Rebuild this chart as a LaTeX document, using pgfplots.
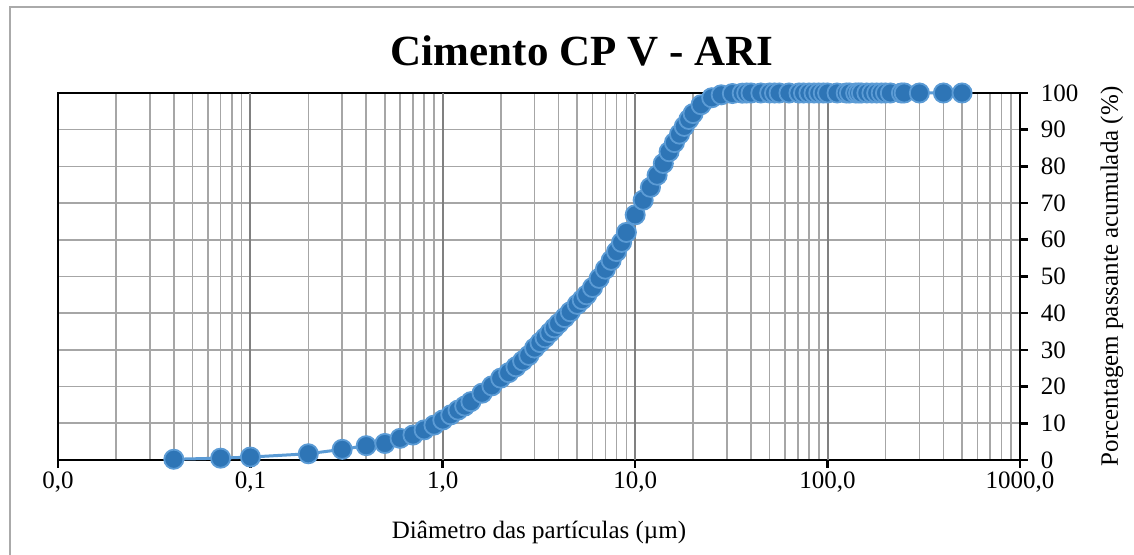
\documentclass[border=0pt]{standalone}
\usepackage{fontspec}
\setmainfont{Liberation Serif}
\usepackage{pgfplots}
\pgfplotsset{compat=1.18}
\definecolor{mfill}{RGB}{46,117,182}
\definecolor{medge}{RGB}{91,155,213}
\definecolor{gminor}{RGB}{166,166,166}
\definecolor{gmajor}{RGB}{128,128,128}
\definecolor{framec}{RGB}{170,170,170}
\begin{document}
\begin{tikzpicture}
\useasboundingbox (0,0) rectangle (567pt,277.5pt);
\draw[framec, line width=1.2pt] (5pt,-5pt) -- (5pt,274pt) -- (600pt,274pt);
\node[font=\fontsize{21.5}{24}\selectfont\bfseries, anchor=base] at (291pt,244.5pt) {Cimento CP V - ARI};
\begin{axis}[
  at={(29pt,47.5pt)}, anchor=south west,
  scale only axis, width=481pt, height=183.5pt,
  xmode=log, log basis x=10,
  xmin=0.01, xmax=1000, ymin=0, ymax=100,
  xtick={0.01,0.1,1,10,100,1000},
  xticklabels={{0,0},{0,1},{1,0},{10,0},{100,0},{1000,0}},
  minor xtick={0.02,0.03,0.04,0.05,0.06,0.07,0.08,0.09,0.2,0.3,0.4,0.5,0.6,0.7,0.8,0.9,2,3,4,5,6,7,8,9,20,30,40,50,60,70,80,90,200,300,400,500,600,700,800,900},
  extra x ticks={0.1,1,10,100},
  extra x tick labels={},
  extra x tick style={grid=major, major grid style={gmajor, line width=1pt}, major tick length=0pt},
  ytick={0,10,...,100},
  xtick pos=left, ytick pos=right,
  yticklabel pos=right,
  tick align=outside,
  major tick length=4pt, minor tick length=0pt,
  tick style={black, line width=1.3pt},
  axis line style={black, line width=1.3pt},
  grid=both,
  major grid style={gminor, line width=0.8pt},
  minor grid style={gminor, line width=0.8pt},
  /pgf/number format/assume math mode=true,
  tick label style={font=\fontsize{12.5}{14}\selectfont},
  xticklabel style={anchor=north, yshift=1.5pt},
  yticklabel style={xshift=3pt},
  label style={font=\fontsize{12.5}{14}\selectfont},
  xlabel={Diâmetro das partículas (µm)},
  ylabel={Porcentagem passante acumulada (\%)},
  xlabel style={at={(rel axis cs:0.5,0)}, anchor=center, yshift=-36pt},
  ylabel style={at={(rel axis cs:1,0.5)}, anchor=center, rotate=0, yshift=-46pt},
  clip=false,
]
\addplot[color=medge, line width=1.5pt, mark=*, mark size=4.8pt,
  mark options={fill=mfill, draw=medge, line width=0.9pt}] coordinates {
(0.04,0.2) (0.07,0.5) (0.1,0.8) (0.2,1.7) (0.3,2.9) (0.4,3.9) (0.5,4.5)
(0.6,5.9) (0.7,6.8) (0.8,8.2) (0.9,9.5) (1.0,10.9) (1.1,12.3) (1.2,13.6)
(1.3,14.7) (1.4,15.9) (1.6,18.2) (1.8,20.2) (2.0,22.3) (2.2,23.8) (2.4,25.4)
(2.6,27.0) (2.8,28.5) (3.0,30.5) (3.2,32.0) (3.4,33.3) (3.6,34.7) (3.8,36.0)
(4.0,37.2) (4.3,38.8) (4.6,40.4) (5.0,42.4) (5.3,43.7) (5.6,45.0) (6.0,47.0)
(6.5,49.5) (7.0,52.0) (7.5,54.4) (8.0,56.8) (8.5,59.3) (9.0,62.0) (10,66.8)
(11,70.8) (12,74.3) (13,77.6) (14,80.8) (15,84.0) (16,86.5) (17,88.8)
(18,90.9) (19,92.8) (20,94.4) (22,96.8) (25,98.7) (28,99.5) (32,99.85)
(36,99.95) (38,100) (40,100) (45,100) (50,100) (53,100) (56,100) (63,100)
(71,100) (75,100) (80,100) (85,100) (90,100) (95,100) (100,100) (112,100)
(125,100) (130,100) (140,100) (145,100) (150,100) (160,100) (170,100)
(180,100) (190,100) (200,100) (212,100) (242,100) (250,100) (300,100)
(400,100) (500,100)
};
\end{axis}
\end{tikzpicture}
\end{document}
